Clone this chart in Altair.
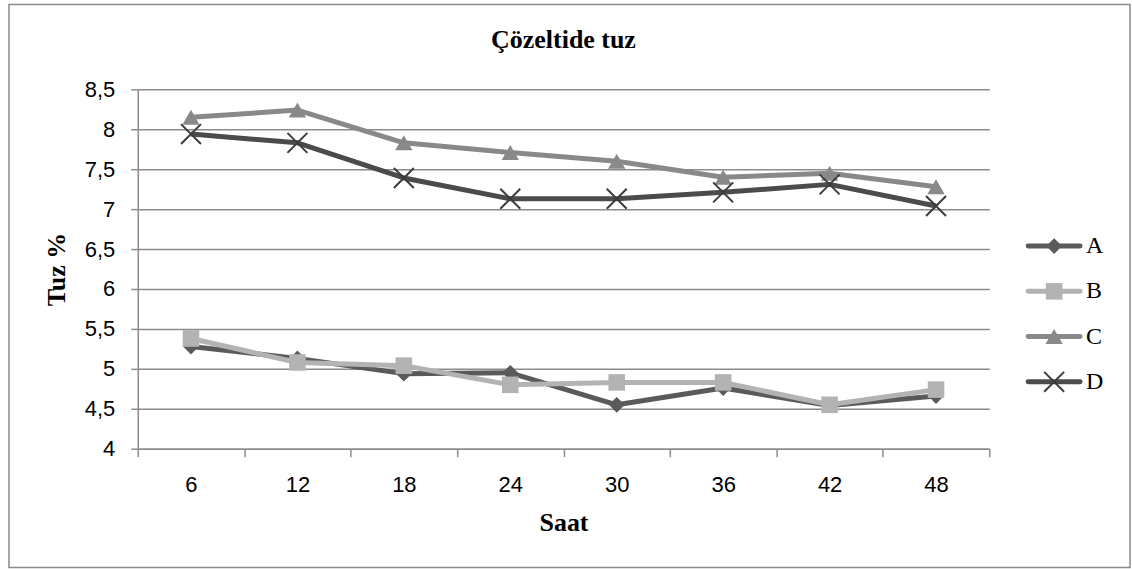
import altair as alt
import pandas as pd

# Sampling hours and salt content (%) of the brine for each series
hours = [6, 12, 18, 24, 30, 36, 42, 48]
series = ["A", "B", "C", "D"]
salt_a = [5.28, 5.13, 4.94, 4.95, 4.55, 4.76, 4.54, 4.66]
salt_b = [5.38, 5.08, 5.04, 4.80, 4.83, 4.83, 4.55, 4.74]
salt_c = [8.15, 8.24, 7.83, 7.71, 7.60, 7.40, 7.45, 7.28]
salt_d = [7.94, 7.83, 7.39, 7.13, 7.13, 7.21, 7.31, 7.04]
y_ticks = [4, 4.5, 5, 5.5, 6, 6.5, 7, 7.5, 8, 8.5]
chart_title = "Çözeltide tuz"

line_colors = ["#5a5a5a", "#b3b3b3", "#898989", "#4b4b4b"]
marker_shapes = ["diamond", "square", "triangle-up", "M-1,-1L1,1M1,-1L-1,1"]

rows = []
for name, vals in zip(series, [salt_a, salt_b, salt_c, salt_d]):
    for h, v in zip(hours, vals):
        rows.append({"Saat": h, "Tuz": v, "seri": name})
df = pd.DataFrame(rows)
legend_df = pd.DataFrame({"seri": series})

GRID = "#8c8c8c"
SANS = "Liberation Sans"
SERIF = "Liberation Serif"

color = alt.Color("seri:N", scale=alt.Scale(domain=series, range=line_colors), legend=None)
shape = alt.Shape("seri:N", scale=alt.Scale(domain=series, range=marker_shapes), legend=None)
msize = alt.Size("seri:N", scale=alt.Scale(domain=["A", "B", "C"], range=[250, 300, 440]), legend=None)

x_enc = alt.X(
    "Saat:O",
    bandPosition=0.5,
    scale=alt.Scale(type="band", paddingInner=0, paddingOuter=0),
    axis=alt.Axis(
        title="Saat", labelAngle=0, tickBand="extent", grid=False,
        labelFont=SANS, labelFontSize=22, labelColor="#000000", labelPadding=18,
        titleFont=SERIF, titleFontSize=26, titleFontWeight="bold", titleColor="#000000",
        titlePadding=14, domainColor=GRID, domainWidth=1.5, tickColor=GRID,
        tickWidth=1.5, tickSize=8,
    ),
)
y_enc = alt.Y(
    "Tuz:Q",
    scale=alt.Scale(domain=[4, 8.5], nice=False, zero=False),
    axis=alt.Axis(
        title="Tuz %", values=y_ticks,
        labelExpr="replace(toString(datum.value), '.', ',')",
        labelFont=SANS, labelFontSize=22, labelColor="#000000", labelPadding=16,
        titleFont=SERIF, titleFontSize=26, titleFontWeight="bold", titleColor="#000000",
        titlePadding=15, grid=True, gridColor=GRID, gridWidth=1.5,
        domainColor=GRID, domainWidth=1.5, tickColor=GRID, tickWidth=1.5, tickSize=7,
    ),
)

base = alt.Chart(df)
lines = base.mark_line(strokeWidth=5, strokeJoin="round").encode(
    x=x_enc, y=y_enc, color=color, detail="seri:N"
)
filled_pts = base.transform_filter(alt.datum.seri != "D").mark_point(
    filled=True, opacity=1
).encode(x=x_enc, y=y_enc, shape=shape, color=color, size=msize)
cross_pts = base.transform_filter(alt.datum.seri == "D").mark_point(
    filled=False, opacity=1, size=400, strokeWidth=2, color="#3c3c3c"
).encode(x=x_enc, y=y_enc, shape=shape)

plot = alt.layer(lines, filled_pts, cross_pts)

# Legend: a short line with the series marker and its name
ly = alt.Y(
    "seri:N",
    scale=alt.Scale(type="point", domain=series, range=[157, 293], padding=0),
    axis=None,
)
lbase = alt.Chart(legend_df)
leg_lines = lbase.mark_rule(strokeWidth=5, strokeCap="round").encode(
    x=alt.value(892), x2=alt.value(944), y=ly, color=color
)
leg_filled = lbase.transform_filter(alt.datum.seri != "D").mark_point(
    filled=True, opacity=1
).encode(x=alt.value(918), y=ly, shape=shape, color=color, size=msize)
leg_cross = lbase.transform_filter(alt.datum.seri == "D").mark_point(
    filled=False, opacity=1, size=400, strokeWidth=2, color="#3c3c3c"
).encode(x=alt.value(918), y=ly, shape=shape)
leg_text = lbase.mark_text(
    align="left", baseline="middle", font=SERIF, fontSize=24, color="#000000"
).encode(x=alt.value(950), y=ly, text="seri:N")
legend = alt.layer(leg_lines, leg_filled, leg_cross, leg_text)

# Outer frame around the whole chart, and the chart title inside it
one = pd.DataFrame({"t": [chart_title]})
frame = alt.Chart(one).mark_rect(
    fillOpacity=0, stroke="#8a8a8a", strokeWidth=1.5
).encode(x=alt.value(-129), x2=alt.value(994), y=alt.value(-85), y2=alt.value(479))
title = alt.Chart(one).mark_text(
    font=SERIF, fontSize=26, fontWeight="bold", color="#000000",
    align="center", baseline="alphabetic",
).encode(x=alt.value(426.5), y=alt.value(-41), text="t:N")

chart = (
    alt.layer(frame, title, plot, legend)
    .resolve_scale(y="independent")
    .properties(
        width=853, height=360,
        padding={"left": 8, "top": 3, "right": 1, "bottom": 2},
        background="#ffffff",
    )
    .configure_view(stroke=None)
)

chart.save("out.html", embed_options={"renderer": "svg", "actions": False})
